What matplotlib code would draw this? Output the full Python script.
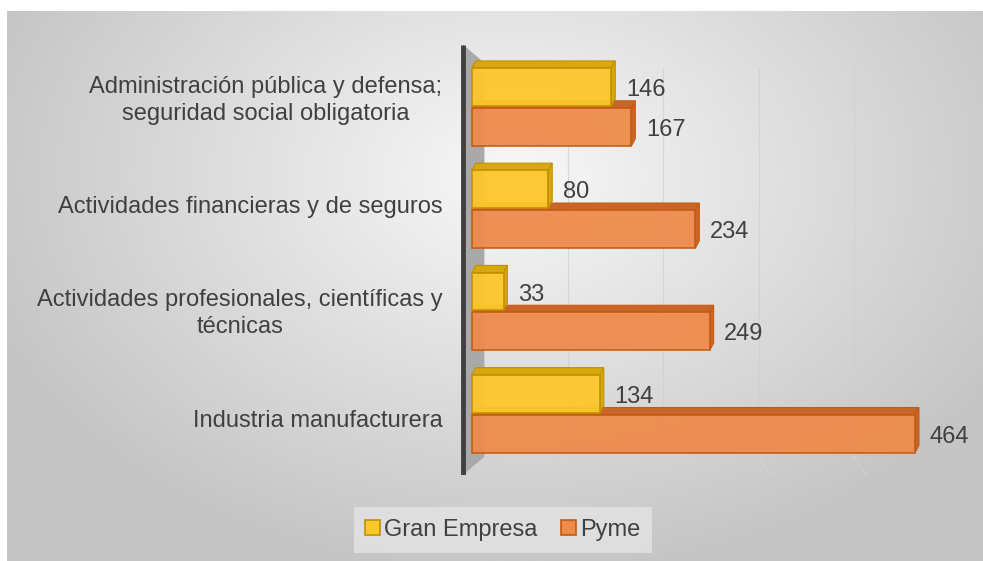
"""Gran Empresa vs Pyme por sector: barras horizontales estilo Excel 3D."""

import matplotlib

matplotlib.use("Agg")
import matplotlib.pyplot as plt
import numpy as np
from matplotlib.patches import Polygon, Patch

plt.rcParams["font.family"] = ["Liberation Sans", "DejaVu Sans"]

categories = [
    "Industria manufacturera",
    "Actividades profesionales, científicas y\ntécnicas",
    "Actividades financieras y de seguros",
    "Administración pública y defensa;\nseguridad social obligatoria",
]
gran_empresa = [134, 33, 80, 146]
pyme = [464, 249, 234, 167]
series_names = ["Gran Empresa", "Pyme"]

YELLOW = "#FCC72A"
YELLOW_EDGE = "#BF9000"
YELLOW_TOP = "#D9A80E"
ORANGE = "#EE8B4C"
ORANGE_EDGE = "#C55A11"
ORANGE_TOP = "#C8662A"
TEXT = "#404040"

W, H = 983, 561
fig = plt.figure(figsize=(W / 100, H / 100), dpi=100)
fig.patch.set_facecolor("white")

# radial grey background of the chart area
bg = fig.add_axes([7 / W, 0, 1 - 7 / W, 1 - 11 / H])
yy, xx = np.mgrid[0:1:300j, 0:1:500j]
r = np.sqrt(((xx - 0.52) / 0.75) ** 2 + ((yy - 0.3) / 0.95) ** 2)
shade = np.clip(0.97 - 0.26 * r, 0.77, 0.97)
bg.imshow(shade, cmap="gray", vmin=0, vmax=1, aspect="auto",
          extent=[0, 1, 1, 0], interpolation="bicubic")
bg.set_axis_off()

# plot axes: x=0 at px 472, 0.955 px per unit; category spacing 102.3 px
x0, x1 = -20, 500
px_per = 0.955
left_px = 472 + x0 * px_per
y_lo, y_hi = -0.6, 3.65
ax = fig.add_axes([left_px / W, (H - 475) / H,
                   (x1 - x0) * px_per / W, (475 - 40.5) / H])
ax.set_xlim(x0, x1)
ax.set_ylim(y_lo, y_hi)
ax.set_axis_off()
ax.patch.set_alpha(0)

ypos = np.arange(len(categories))
bh = 0.37
dx, dy = 4, 0.07

# side wall
ax.add_patch(Polygon([(-9.4, y_hi - 0.04), (13, y_hi - 0.22), (13, y_lo + 0.18),
                      (-9.4, y_lo)], closed=True, facecolor="#a9a9a9",
                     edgecolor="none", zorder=1))
ax.plot([-9.4, -9.4], [y_lo, y_hi - 0.04], color="#404040", lw=3.5,
        solid_capstyle="butt", zorder=2)

# gridlines
for g in range(100, 501, 100):
    ax.plot([g, g], [-0.42, 3.38], color="#cfcfcf", lw=0.9, alpha=0.7, zorder=1)
    ax.plot([g, g - 12 if g < 300 else g + 12], [-0.42, -0.6],
            color="#d6d6d6", lw=0.9, alpha=0.6, zorder=1)


def bar3d(vals, offset, face, edge, top, z):
    bars = ax.barh(ypos + offset, vals, height=bh, color=face, edgecolor=edge,
                   linewidth=1.2, alpha=0.95, zorder=z + 1)
    for b in bars:
        xr = b.get_width()
        yb = b.get_y()
        yt = yb + b.get_height()
        ax.add_patch(Polygon([(0, yt), (xr, yt), (xr + dx, yt + dy), (dx, yt + dy)],
                             closed=True, facecolor=top, edgecolor=edge,
                             linewidth=0.8, zorder=z))
        ax.add_patch(Polygon([(xr, yb), (xr, yt), (xr + dx, yt + dy), (xr + dx, yb + dy)],
                             closed=True, facecolor=top, edgecolor=edge,
                             linewidth=0.8, zorder=z))
        ax.text(xr + 15, yb + b.get_height() / 2 - 0.03, f"{int(xr)}",
                ha="left", va="center", fontsize=17, color=TEXT, zorder=10)
    return bars


bar3d(pyme, -bh / 2 - 0.01, ORANGE, ORANGE_EDGE, ORANGE_TOP, 3)
bar3d(gran_empresa, bh / 2 + 0.01, YELLOW, YELLOW_EDGE, YELLOW_TOP, 5)

# category labels (slight perspective spread)
for y, lab in zip(ypos, categories):
    ax.text(-31, y + 0.045 * (y - 1.5), lab, ha="right", va="center",
            fontsize=17, color=TEXT, multialignment="center", linespacing=1.3)

handles = [Patch(facecolor=YELLOW, edgecolor=YELLOW_EDGE, linewidth=1.2),
           Patch(facecolor=ORANGE, edgecolor=ORANGE_EDGE, linewidth=1.2)]
leg = fig.legend(handles, series_names, loc="center", ncol=2,
                 bbox_to_anchor=(503 / W, 1 - 530 / H), fontsize=17,
                 frameon=True, fancybox=False, handlelength=0.6,
                 handleheight=0.6, handletextpad=0.2, columnspacing=1.0,
                 borderpad=0.5, labelcolor=TEXT)
leg.get_frame().set_facecolor("#e4e4e4")
leg.get_frame().set_edgecolor("none")

fig.savefig("out.png", dpi=100)
